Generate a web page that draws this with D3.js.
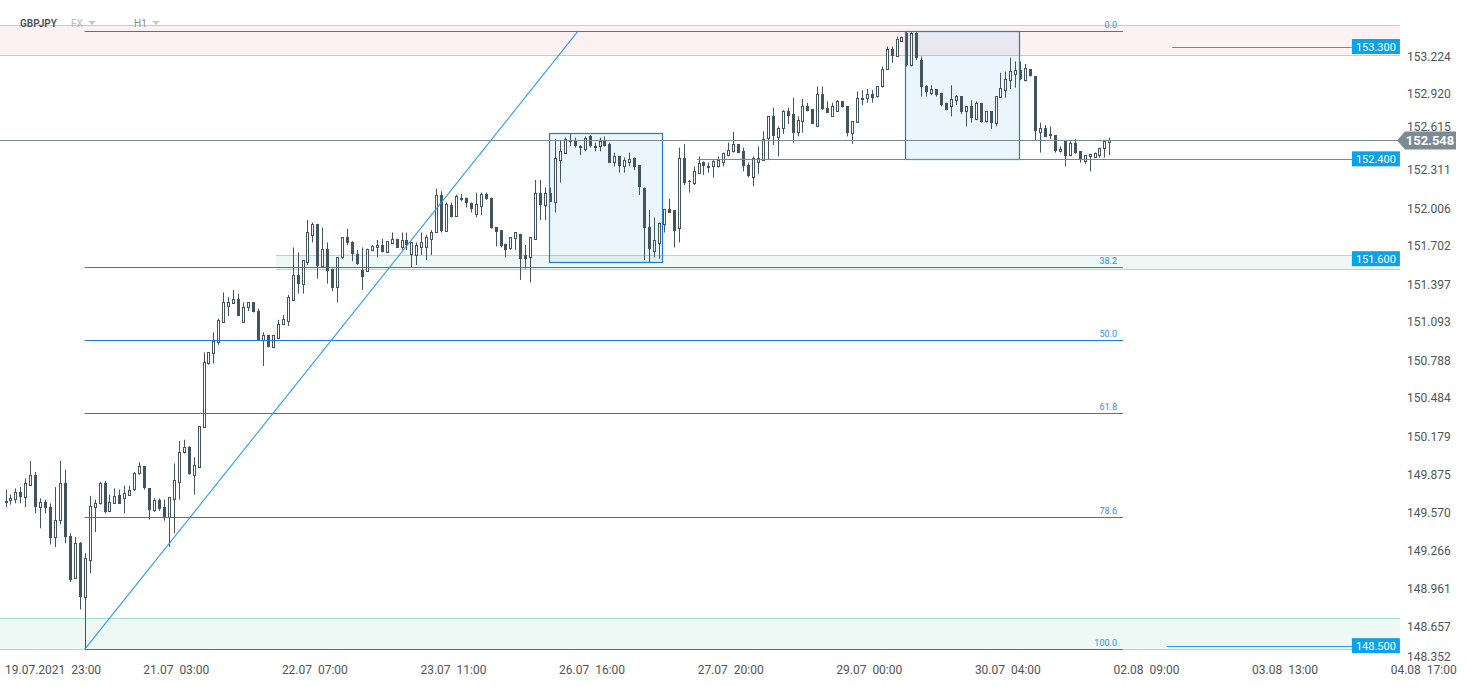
<!DOCTYPE html>
<html><head><meta charset="utf-8">
<script src="https://cdn.jsdelivr.net/npm/d3@7"></script>
<style>html,body{margin:0;padding:0;background:#fff;overflow:hidden}svg{display:block;font-family:Roboto,"Noto Sans",sans-serif}</style>
</head><body><svg id="chart" width="1467" height="687"></svg>
<script>
// ---- DATA (GBPJPY H1) ----
const openP = [149.66,149.66,149.67,149.73,149.69,149.79,149.87,149.61,149.65,149.61,
149.37,149.50,149.80,149.38,149.04,149.32,148.89,149.19,149.61,149.64,
149.80,149.58,149.64,149.71,149.68,149.71,149.75,149.88,149.94,149.76,
149.59,149.67,149.61,149.53,149.68,149.81,150.05,150.09,149.87,149.93,
150.25,150.76,150.84,150.93,151.09,151.22,151.25,151.28,151.09,151.21,
151.25,151.18,150.95,150.99,150.89,150.97,151.08,151.10,151.27,151.47,
151.40,151.57,151.79,151.88,151.54,151.68,151.52,151.37,151.61,151.77,
151.73,151.64,151.51,151.50,151.67,151.69,151.71,151.65,151.73,151.76,
151.69,151.75,151.63,151.63,151.69,151.69,151.75,151.81,152.11,151.82,
152.03,151.94,152.08,152.09,152.05,151.96,152.02,152.12,152.09,151.85,
151.83,151.72,151.68,151.76,151.80,151.63,151.61,151.76,152.13,152.03,
152.13,152.06,152.39,152.45,152.54,152.54,152.50,152.48,152.58,152.49,
152.50,152.54,152.52,152.37,152.42,152.34,152.375,152.41,152.35,152.17,
151.85,151.66,151.73,151.88,152.00,151.99,151.85,152.41,152.22,152.20,
152.29,152.375,152.33,152.34,152.34,152.38,152.43,152.46,152.52,152.46,
152.35,152.26,152.38,152.39,152.56,152.74,152.58,152.64,152.78,152.76,
152.61,152.70,152.82,152.80,152.66,152.92,152.81,152.74,152.78,152.86,
152.82,152.60,152.70,152.88,152.89,152.92,152.90,152.98,153.12,153.28,
153.22,153.35,153.41,153.15,153.41,153.19,152.98,152.93,152.96,152.93,
152.85,152.82,152.87,152.90,152.78,152.82,152.72,152.85,152.70,152.78,
152.68,152.90,152.95,153.03,153.08,153.11,153.03,153.12,153.06,152.62,
152.65,152.60,152.59,152.46,152.54,152.43,152.53,152.46,152.38,152.42,
152.42,152.43,152.48,152.53];
const highP = [149.75,149.71,149.76,149.77,149.84,149.98,149.89,149.68,149.67,149.64,
149.77,149.98,149.91,149.40,149.37,149.33,149.24,149.70,149.67,149.81,
149.82,149.71,149.76,149.75,149.78,149.78,149.89,149.97,149.94,149.76,
149.68,149.68,149.67,149.69,149.96,150.14,150.15,150.10,150.01,150.26,
150.85,150.85,151.01,151.12,151.33,151.29,151.35,151.32,151.25,151.25,
151.25,151.20,151.01,150.99,150.99,151.11,151.15,151.31,151.69,151.65,
151.59,151.91,151.89,151.88,151.85,151.73,151.52,151.61,151.77,151.84,
151.74,151.67,151.69,151.68,151.71,151.75,151.76,151.74,151.81,151.76,
151.81,151.81,151.73,151.73,151.81,151.79,151.83,152.16,152.14,152.05,
152.05,152.11,152.12,152.09,152.05,152.13,152.13,152.13,152.09,151.85,
151.83,151.72,151.77,151.81,151.80,151.71,151.77,152.23,152.23,152.17,
152.17,152.56,152.55,152.57,152.60,152.57,152.51,152.58,152.59,152.53,
152.57,152.58,152.53,152.45,152.42,152.41,152.45,152.41,152.35,152.17,
151.99,151.93,151.89,152.00,152.08,151.99,152.49,152.52,152.23,152.34,
152.42,152.38,152.37,152.39,152.42,152.45,152.53,152.615,152.52,152.49,
152.37,152.42,152.50,152.62,152.74,152.81,152.66,152.79,152.81,152.89,
152.74,152.88,152.85,152.80,152.98,152.98,152.86,152.85,152.87,152.86,
152.82,152.70,152.94,152.95,152.96,152.95,152.98,153.14,153.30,153.30,
153.38,153.38,153.42,153.42,153.42,153.22,152.99,152.99,152.96,152.93,
152.85,152.99,152.91,152.90,152.82,152.87,152.86,152.85,152.78,152.78,
152.90,153.09,153.10,153.21,153.18,153.18,153.16,153.12,153.06,152.69,
152.67,152.66,152.59,152.50,152.54,152.54,152.56,152.46,152.43,152.44,
152.45,152.49,152.54,152.57];
const lowP = [149.61,149.63,149.64,149.64,149.61,149.78,149.56,149.44,149.56,149.31,
149.29,149.47,149.32,149.01,149.04,148.79,148.47,149.08,149.41,149.63,
149.56,149.57,149.64,149.64,149.56,149.71,149.74,149.87,149.75,149.51,
149.57,149.58,149.50,149.29,149.40,149.67,150.04,149.87,149.71,149.93,
150.25,150.75,150.76,150.91,151.09,151.14,151.25,151.14,151.09,151.18,
151.17,150.95,150.74,150.89,150.89,150.97,151.07,151.06,151.26,151.32,
151.32,151.55,151.73,151.44,151.53,151.40,151.34,151.25,151.60,151.71,
151.58,151.55,151.35,151.50,151.66,151.61,151.65,151.65,151.73,151.69,
151.67,151.67,151.53,151.55,151.63,151.59,151.63,151.81,151.81,151.82,
151.93,151.94,152.06,152.01,151.97,151.93,151.95,152.07,151.84,151.70,
151.69,151.61,151.67,151.67,151.43,151.52,151.41,151.75,151.91,151.91,
152.06,151.97,152.21,152.45,152.50,152.49,152.43,152.46,152.49,152.46,
152.46,152.50,152.37,152.34,152.29,152.29,152.34,152.31,152.11,151.59,
151.57,151.61,151.60,151.81,151.97,151.69,151.73,152.19,152.13,152.19,
152.29,152.27,152.29,152.25,152.33,152.34,152.42,152.45,152.45,152.30,
152.25,152.18,152.28,152.39,152.39,152.51,152.42,152.60,152.68,152.53,
152.58,152.61,152.78,152.68,152.66,152.79,152.77,152.74,152.78,152.81,
152.58,152.52,152.70,152.83,152.85,152.85,152.89,152.97,153.12,153.17,
153.22,153.34,153.14,153.14,153.19,152.90,152.90,152.91,152.90,152.82,
152.79,152.74,152.83,152.76,152.66,152.69,152.71,152.69,152.69,152.64,
152.66,152.89,152.89,152.96,152.97,153.03,153.02,153.06,152.55,152.45,
152.58,152.56,152.45,152.45,152.34,152.42,152.44,152.37,152.36,152.30,
152.41,152.41,152.41,152.43];
const closeP = [149.64,149.68,149.73,149.69,149.80,149.87,149.61,149.65,149.60,149.36,
149.51,149.80,149.37,149.03,149.32,148.89,149.20,149.62,149.64,149.80,
149.57,149.65,149.70,149.64,149.72,149.75,149.88,149.94,149.76,149.58,
149.67,149.60,149.53,149.69,149.83,150.05,150.09,149.87,149.95,150.26,
150.77,150.85,150.94,151.11,151.25,151.25,151.28,151.14,151.21,151.25,
151.17,150.95,150.99,150.89,150.99,151.08,151.12,151.29,151.47,151.40,
151.59,151.81,151.88,151.54,151.68,151.50,151.37,151.61,151.77,151.72,
151.63,151.56,151.45,151.68,151.70,151.71,151.65,151.74,151.76,151.69,
151.75,151.71,151.73,151.71,151.73,151.77,151.81,152.11,151.82,152.04,
151.93,152.10,152.09,152.05,152.00,152.04,152.12,152.08,151.85,151.81,
151.70,151.67,151.77,151.81,151.60,151.60,151.77,152.13,152.03,152.13,
152.06,152.41,152.46,152.56,152.53,152.50,152.48,152.57,152.50,152.50,
152.54,152.50,152.37,152.42,152.34,152.39,152.40,152.34,152.17,151.85,
151.67,151.75,151.89,152.00,151.97,151.82,152.41,152.21,152.21,152.30,
152.37,152.34,152.34,152.38,152.39,152.45,152.47,152.52,152.45,152.34,
152.26,152.41,152.41,152.56,152.74,152.58,152.65,152.78,152.74,152.61,
152.71,152.82,152.78,152.68,152.92,152.80,152.77,152.82,152.86,152.81,
152.60,152.70,152.89,152.89,152.92,152.89,152.98,153.12,153.28,153.22,
153.36,153.38,153.15,153.41,153.21,152.97,152.93,152.96,152.91,152.83,
152.79,152.88,152.90,152.77,152.82,152.72,152.85,152.70,152.78,152.68,
152.90,152.97,153.04,153.10,153.11,153.04,153.13,153.06,152.62,152.65,
152.58,152.58,152.46,152.48,152.42,152.53,152.45,152.39,152.43,152.44,
152.45,152.49,152.54,152.548];

const priceTicks = ["153.224","152.920","152.615","152.311","152.006","151.702","151.397","151.093",
  "150.788","150.484","150.179","149.875","149.570","149.266","148.961","148.657","148.352"];
const timeTickLabels = ["19.07.2021  23:00","21.07  03:00","22.07  07:00","23.07  11:00","26.07  16:00",
  "27.07  20:00","29.07  00:00","30.07  04:00","02.08  09:00","03.08  13:00","04.08  17:00"];
const timeTickIndex = [6.5,34.5,62.5,90.5,118.5,146.5,174.5,202.5,230.5,258.5,286.5];

const fibLevels = [0, 38.2, 50, 61.8, 78.6, 100];
const fibLabels = ["0.0","38.2","50.0","61.8","78.6","100.0"];
const fibHigh = 153.425, fibLow = 148.47;
const levelPrices = [153.300, 152.400, 151.600, 148.500];
const levelLabels = ["153.300","152.400","151.600","148.500"];
const lastPrice = 152.548;
const symbol = "GBPJPY", market = "FX", interval = "H1";

// ---- annotation anchors (candle index, price) ----
const pinkZone = {i0:-2, i1:281.7, top:153.47, bottom:153.232};
const greenLow = {i0:-2, i1:281.7, top:148.72, bottom:148.47};
const greenMid = {i0:54.6, i1:281.7, top:151.63, bottom:151.518};
const boxes = [{i0:109.8, i1:132.6, top:152.607, bottom:151.574},
               {i0:181.7, i1:204.7, top:153.425, bottom:152.40}];
const fibStart = 16, fibEnd = 225.75;
const trendEnd = 115.7;
const levelStarts = [235.7, 139.7, null, 234.6];
const levelEnd = 272;

// ---- SCALES ----
const x = d3.scaleLinear().domain([0, 223]).range([5.5, 5.5 + 223 * 4.95]);
const y = d3.scaleLinear().domain([148.352, 153.224]).range([664.1, 56]);

const svg = d3.select("#chart");
const zoneG = svg.append("g");

function zone(z, fill, stroke) {
  const x0 = Math.max(0, x(z.i0)), x1 = x(z.i1);
  zoneG.append("rect").attr("x", x0).attr("y", y(z.top)).attr("width", x1 - x0)
    .attr("height", y(z.bottom) - y(z.top)).attr("fill", fill);
  [z.top, z.bottom].forEach(p => zoneG.append("line").attr("x1", x0).attr("x2", x1)
    .attr("y1", Math.round(y(p)) + 0.5).attr("y2", Math.round(y(p)) + 0.5)
    .attr("stroke", stroke).attr("stroke-width", 1));
}
zone(pinkZone, "#fdf1f1", "#f3b9b9");
zone(greenLow, "#eef9f5", "#9fe3c7");
zone(greenMid, "#eef9f5", "#9fe3c7");

boxes.forEach(b => {
  zoneG.append("rect").attr("x", Math.round(x(b.i0)) + 0.5).attr("y", Math.round(y(b.top)) + 0.5)
    .attr("width", Math.round(x(b.i1) - x(b.i0))).attr("height", Math.round(y(b.bottom) - y(b.top)))
    .attr("fill", "rgba(30,144,230,0.09)").attr("stroke", "none");
});

// ---- CANDLES ----
const candleG = svg.append("g");
const dark = "#44545f";
openP.forEach((o, i) => {
  const c = closeP[i], h = highP[i], l = lowP[i];
  const cx = Math.round(x(i));
  candleG.append("line").attr("x1", cx + 0.5).attr("x2", cx + 0.5)
    .attr("y1", y(h)).attr("y2", y(l)).attr("stroke", dark).attr("stroke-width", 1);
  const top = y(Math.max(o, c)), bot = y(Math.min(o, c));
  if (c >= o) {
    const t = Math.round(top) + 0.5, hgt = Math.max(1, Math.round(bot - top));
    candleG.append("rect").attr("x", cx - 0.5).attr("y", t).attr("width", 2).attr("height", hgt)
      .attr("fill", "#fff").attr("stroke", dark).attr("stroke-width", 1);
  } else {
    candleG.append("rect").attr("x", cx - 1).attr("y", Math.round(top)).attr("width", 3)
      .attr("height", Math.max(1, Math.round(bot - top))).attr("fill", dark);
  }
});

// ---- DRAWINGS ----
const drawG = svg.append("g");
boxes.forEach(b => {
  drawG.append("rect").attr("x", Math.round(x(b.i0)) + 0.5).attr("y", Math.round(y(b.top)) + 0.5)
    .attr("width", Math.round(x(b.i1) - x(b.i0))).attr("height", Math.round(y(b.bottom) - y(b.top)))
    .attr("fill", "none").attr("stroke", "#1a7fca").attr("stroke-width", 1.2);
});

fibLevels.forEach((r, k) => {
  const p = fibHigh - r / 100 * (fibHigh - fibLow);
  const yy = Math.round(y(p)) + 0.5;
  drawG.append("line").attr("x1", x(fibStart)).attr("x2", x(fibEnd)).attr("y1", yy).attr("y2", yy)
    .attr("stroke", "#1a80d8").attr("stroke-width", 1);
  drawG.append("text").attr("x", x(fibEnd) - 6).attr("y", yy - 4).attr("text-anchor", "end")
    .attr("font-size", 9).attr("fill", "#2a90ea").text(fibLabels[k]);
});

drawG.append("line").attr("x1", x(fibStart)).attr("y1", y(fibLow))
  .attr("x2", x(trendEnd)).attr("y2", y(fibHigh)).attr("stroke", "#2b9af3").attr("stroke-width", 1.1);

// last price line
const ly = Math.round(y(lastPrice)) + 0.5;
drawG.append("line").attr("x1", 0).attr("x2", 1398).attr("y1", ly).attr("y2", ly)
  .attr("stroke", "#7c8b93").attr("stroke-width", 1);

// level lines + labels
levelPrices.forEach((p, k) => {
  const yy = Math.round(y(p)) + 0.5;
  if (levelStarts[k] !== null) {
    drawG.append("line").attr("x1", x(levelStarts[k])).attr("x2", x(levelEnd)).attr("y1", yy).attr("y2", yy)
      .attr("stroke", "#1ea3ee").attr("stroke-width", 1.2);
  }
  drawG.append("rect").attr("x", x(levelEnd)).attr("y", y(p) - 7.5).attr("width", 48).attr("height", 15)
    .attr("fill", "#0ba2e9");
  drawG.append("text").attr("x", x(levelEnd) + 24).attr("y", y(p) + 4).attr("text-anchor", "middle")
    .attr("font-size", 11).attr("fill", "#fff").text(levelLabels[k]);
});

// ---- AXES ----
const axG = svg.append("g");
const tagY = y(lastPrice);
priceTicks.forEach(t => {
  let yy = Math.min(y(+t), 656);
  // keep the tick label clear of the current-price tag
  if (Math.abs(yy - tagY) < 14) yy = tagY - 14;
  axG.append("text").attr("x", 1407).attr("y", yy + 4.5).attr("font-size", 12)
    .attr("fill", "#505558").text(t);
});
timeTickLabels.forEach((t, k) => {
  const el = axG.append("text").attr("y", 674).attr("font-size", 12).attr("fill", "#505558")
    .attr("xml:space", "preserve").style("white-space", "pre").text(t);
  const w = el.node().getComputedTextLength();
  let cx = x(timeTickIndex[k]) - w / 2;
  if (cx < 5) cx = 5;
  el.attr("x", cx);
});

// current price tag
const tg = svg.append("g");
const ty = tagY;
tg.append("path").attr("d", `M1397,${ty} L1405,${ty - 9} L1456,${ty - 9} L1456,${ty + 9} L1405,${ty + 9} Z`)
  .attr("fill", "#7c8b93");
tg.append("text").attr("x", 1430).attr("y", ty + 4.5).attr("text-anchor", "middle")
  .attr("font-size", 13).attr("font-weight", 700).attr("fill", "#fff").text(lastPrice.toFixed(3));

// header
const hd = svg.append("g");
hd.append("text").attr("x", 20).attr("y", 27).attr("font-size", 10).attr("font-weight", 600)
  .attr("fill", "#4a4f55").text(symbol);
hd.append("text").attr("x", 71).attr("y", 27).attr("font-size", 10).attr("fill", "#b8b8b8").text(market);
hd.append("path").attr("d", "M88,21 L96,21 L92,25 Z").attr("fill", "#c9c9c9");
hd.append("text").attr("x", 134).attr("y", 27).attr("font-size", 10).attr("fill", "#8a8e92").text(interval);
hd.append("path").attr("d", "M152,21 L160,21 L156,25 Z").attr("fill", "#c9c9c9");
</script></body></html>
